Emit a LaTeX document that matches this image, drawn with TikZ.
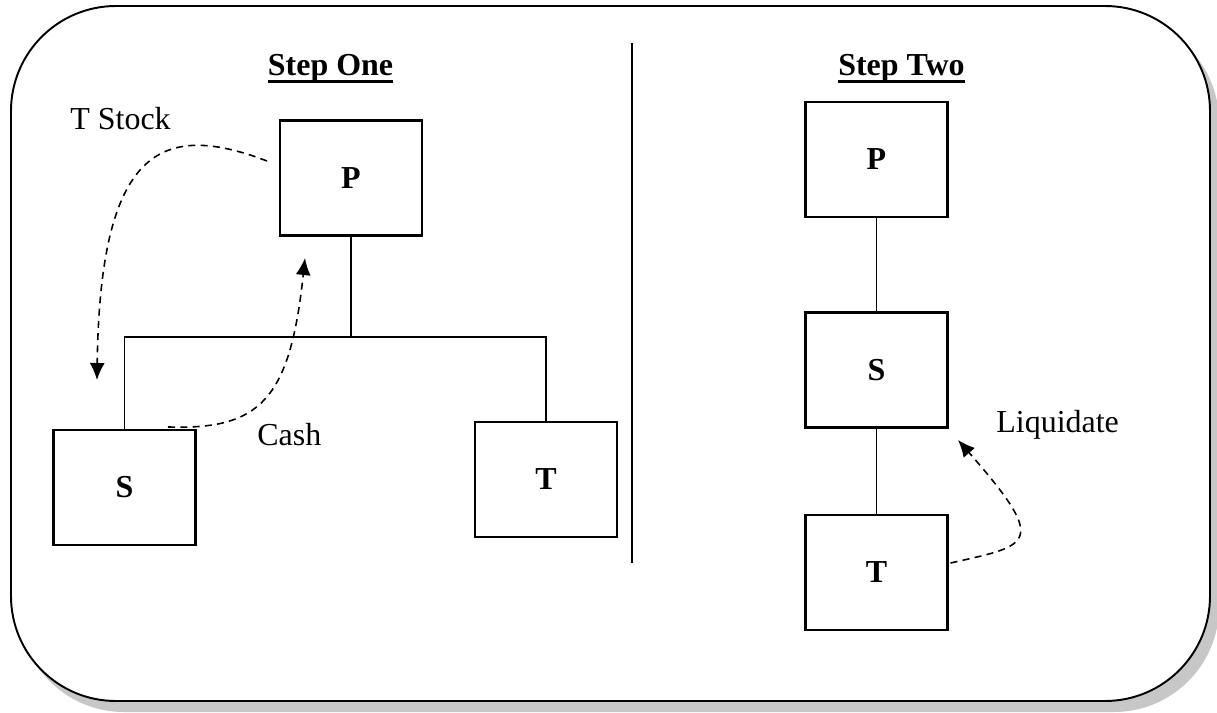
\documentclass[tikz,border=0pt]{standalone}
\usepackage{fontspec}
\setmainfont{Liberation Serif}
\usetikzlibrary{arrows.meta}
\newcommand{\thickul}[1]{\setbox0=\hbox{#1}\rlap{\copy0}\rule[-3.9pt]{\wd0}{1.6pt}}

\begin{document}
\begin{tikzpicture}[x=0.02cm, y=-0.02cm, font=\fontsize{18.2}{22}\selectfont,
    entity/.style={draw, line width=1.2pt, minimum width=2.84cm, minimum height=2.3cm, font=\fontsize{18.2}{22}\selectfont\bfseries},
    flow/.style={dash pattern=on 4pt off 3pt, line width=0.9pt, -{Latex[length=0.34cm,width=0.3cm]}},
    label/.style={anchor=base west, inner sep=0pt},
    title/.style={anchor=base, inner sep=0pt, font=\fontsize{18.2}{22}\selectfont\bfseries}]

        % page and rounded frame with its shadow
        \useasboundingbox (0,0) rectangle (1217,713);
        \fill[black!22, rounded corners=2.1cm] (19,17) rectangle (1219,712);
        \draw[fill=white, line width=1.1pt, rounded corners=2.1cm] (11,6) rectangle (1210,701);

        % divider between the two steps
        \draw[line width=1.1pt] (632,43) -- (632,563);

        % step one
        \node[title] (stepone) at (330.5,76) {\thickul{Step One}};
        \node[entity] (pone) at (351,178) {P};
        \node[entity] (sone) at (124.5,487.5) {S};
        \node[entity] (tone) at (546,479.5) {T};
        \coordinate (busone) at (351,337);
        \draw[line width=1.1pt] (pone.south) -- (busone);
        \draw[line width=1.1pt] (sone.north) |- (busone) -| (tone.north);

        \coordinate (stockend) at (97,380);
        \coordinate (cashend) at (305,258);
        \draw[flow] ([xshift=-0.24cm,yshift=0.34cm]pone.west) .. controls (160,120) and (100,150) .. (stockend);
        \draw[flow] ([xshift=0.87cm,yshift=0.04cm]sone.north) .. controls (260,430) and (290,400) .. (cashend);
        \node[label] (stock) at (70,130) {T Stock};
        \node[label] (cash) at (257,445) {Cash};

        % step two
        \node[title] (steptwo) at (901.5,76) {\thickul{Step Two}};
        \node[entity] (ptwo) at (876.5,159.5) {P};
        \node[entity] (stwo) at (876.5,370) {S};
        \node[entity] (ttwo) at (876.5,572.5) {T};
        \draw[line width=1.1pt] (ptwo) -- (stwo);
        \draw[line width=1.1pt] (stwo) -- (ttwo);

        \coordinate (liqend) at (958,440);
        \draw[flow] ([xshift=0.04cm,yshift=0.19cm]ttwo.east) .. controls (1030,545) and (1050,545) .. (liqend);
        \node[label] (liquidate) at (996,432) {Liquidate};

\end{tikzpicture}
\end{document}
